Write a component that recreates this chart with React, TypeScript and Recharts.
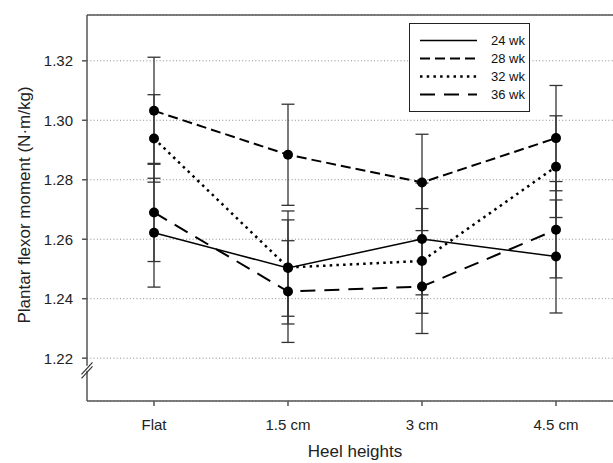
import { LineChart, Line, XAxis, YAxis, CartesianGrid, ErrorBar, Legend, ReferenceLine, ReferenceDot } from "recharts"

const categories = ["Flat", "1.5 cm", "3 cm", "4.5 cm"]
const yTicks = [1.22, 1.24, 1.26, 1.28, 1.3, 1.32]

const wk24 = [1.2622, 1.2503, 1.2601, 1.2542]
const sd24 = [0.0183, 0.0162, 0.0188, 0.019]
const wk28 = [1.3032, 1.2884, 1.2791, 1.294]
const sd28 = [0.018, 0.017, 0.0162, 0.0177]
const wk32 = [1.2939, 1.2505, 1.2527, 1.2844]
const sd32 = [0.0147, 0.019, 0.0176, 0.0171]
const wk36 = [1.269, 1.2424, 1.2441, 1.2632]
const sd36 = [0.0165, 0.0171, 0.0158, 0.0162]

const Y_MIN = 1.2056
const Y_MAX = 1.3354
const FONT = "'Liberation Sans', Arial, sans-serif"
const AXIS = "#555"

const data = categories.map((c, i) => ({
  x: i,
  name: c,
  v24: wk24[i], e24: sd24[i],
  v28: wk28[i], e28: sd28[i],
  v32: wk32[i], e32: sd32[i],
  v36: wk36[i], e36: sd36[i],
}))

const series = [
  { key: "24", label: "24 wk", dash: undefined, width: 1.5 },
  { key: "28", label: "28 wk", dash: "10 5", width: 2 },
  { key: "32", label: "32 wk", dash: "2.5 4.2", width: 2.5 },
  { key: "36", label: "36 wk", dash: "15 9", width: 2 },
]

function LegendBox() {
  return (
    <div style={{ width: 121, height: 89, border: "1.5px solid #222", background: "#fff", boxSizing: "border-box" }}>
      <svg width={118} height={86}>
        {series.map((s, i) => {
          const y = 16.5 + 18 * i
          return (
            <g key={s.key}>
              <line x1={10} x2={67} y1={y} y2={y} stroke="#000" strokeWidth={s.width} strokeDasharray={s.dash} />
              <text x={81} y={y + 4.5} fontSize={13} fontFamily={FONT} fill="#111">{s.label}</text>
            </g>
          )
        })}
      </svg>
    </div>
  )
}

// the little "//" break on the y axis
function AxisBreak(props: any) {
  const { cx, cy } = props
  return (
    <g>
      <rect x={cx - 2} y={cy - 2.5} width={4} height={5} fill="#fff" />
      <line x1={cx - 5.5} y1={cy + 6} x2={cx + 5.5} y2={cy - 6} stroke="#333" strokeWidth={1.2} />
      <line x1={cx - 5.5} y1={cy + 10} x2={cx + 5.5} y2={cy - 2} stroke="#333" strokeWidth={1.2} />
    </g>
  )
}

export default function App() {
  return (
    <div style={{ position: "absolute", left: 0, top: 0, width: 613, height: 463, overflow: "hidden", background: "#fff" }}>
      <LineChart width={625} height={463} data={data} margin={{ top: 15, right: 2, bottom: 0, left: 0 }}>
        <CartesianGrid horizontal vertical={false} stroke="#8a8a8a" strokeDasharray="1 2.3" />
        <XAxis
          dataKey="x"
          type="number"
          domain={[-0.5, 3.5]}
          ticks={[0, 1, 2, 3]}
          tickFormatter={(v: number) => categories[v]}
          height={62}
          stroke={AXIS}
          strokeWidth={1.5}
          tickSize={5}
          tickMargin={13}
          tick={{ fontSize: 15, fontFamily: FONT, fill: "#222" }}
          label={(p: any) => {
            const vb = p.viewBox
            return (
              <text x={vb.x + vb.width / 2} y={457} textAnchor="middle" fontSize={17} fontFamily={FONT} fill="#222">
                Heel heights
              </text>
            )
          }}
        />
        <YAxis
          type="number"
          domain={[Y_MIN, Y_MAX]}
          allowDataOverflow
          ticks={yTicks}
          tickFormatter={(v: number) => v.toFixed(2)}
          width={87}
          stroke={AXIS}
          strokeWidth={1.5}
          tickSize={5}
          tickMargin={9}
          tick={{ fontSize: 15, fontFamily: FONT, fill: "#222" }}
          label={(p: any) => {
            const vb = p.viewBox
            const cy = vb.y + vb.height / 2 - 3
            return (
              <text x={24} y={cy} transform={`rotate(-90 24 ${cy})`} textAnchor="middle" dominantBaseline="central" fontSize={17} fontFamily={FONT} fill="#222">
                Plantar flexor moment (N·m/kg)
              </text>
            )
          }}
        />
        <ReferenceLine y={Y_MAX} stroke={AXIS} strokeWidth={1.5} ifOverflow="visible" />
        <ReferenceDot x={-0.5} y={1.2166} ifOverflow="visible" shape={AxisBreak} />
        <Legend layout="vertical" align="center" verticalAlign="middle" content={() => <LegendBox />} wrapperStyle={{ left: 409, top: 23, width: "auto" }} />
        {series.map((s) => (
          <Line
            key={s.key}
            dataKey={"v" + s.key}
            name={s.label}
            stroke="#000"
            strokeWidth={s.width}
            strokeDasharray={s.dash}
            dot={{ r: 5, fill: "#000", stroke: "none" }}
            activeDot={false}
            isAnimationActive={false}
          >
            <ErrorBar dataKey={"e" + s.key} direction="y" width={6.5} stroke="#333" strokeWidth={1.3} />
          </Line>
        ))}
      </LineChart>
    </div>
  )
}
